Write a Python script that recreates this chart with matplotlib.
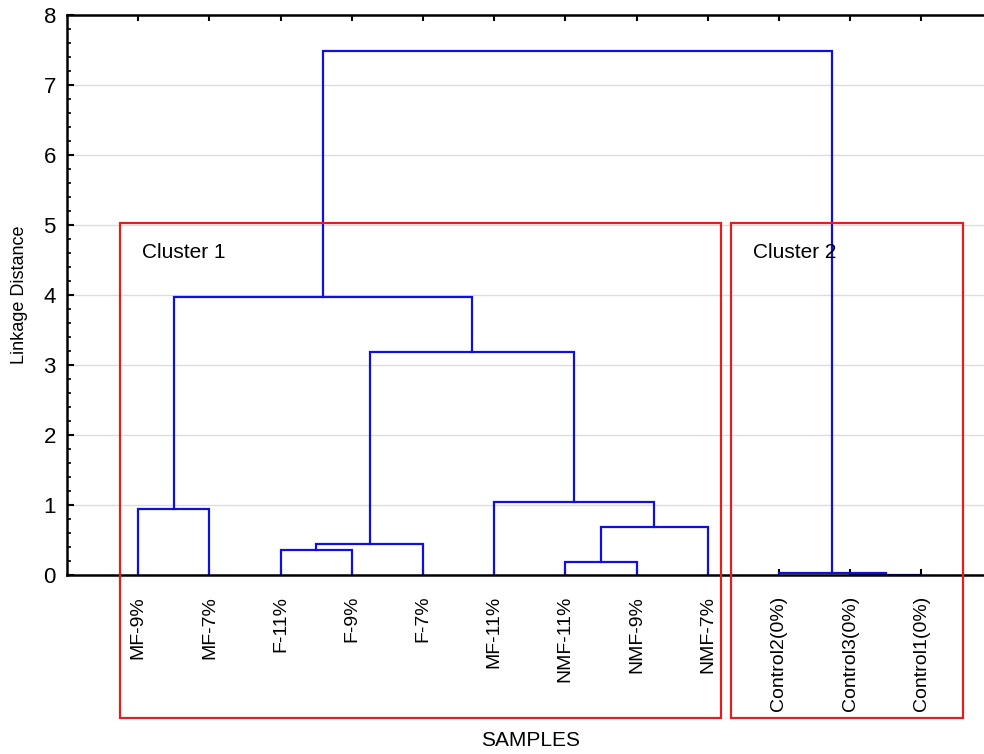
import numpy as np
import matplotlib
matplotlib.use("Agg")
import matplotlib.pyplot as plt
from matplotlib.patches import Rectangle
from matplotlib.ticker import MultipleLocator

plt.rcParams['font.family'] = ['Liberation Sans', 'DejaVu Sans']

# leaves in dendrogram order
leaves = ['MF-9%', 'MF-7%', 'F-11%', 'F-9%', 'F-7%', 'MF-11%',
          'NMF-11%', 'NMF-9%', 'NMF-7%',
          'Control2(0%)', 'Control3(0%)', 'Control1(0%)']

# merges: (left node, right node, linkage distance)
# nodes < 12 are leaves, node 12 + k is merge k
merge_left = [0, 2, 13, 6, 15, 5, 14, 12, 10, 9, 19]
merge_right = [1, 3, 4, 7, 8, 16, 17, 18, 11, 20, 21]
merge_dist = [0.95, 0.36, 0.44, 0.18, 0.68, 1.05, 3.19, 3.97, 0.0, 0.03, 7.49]

cluster_names = ['Cluster 1', 'Cluster 2']

fig = plt.figure(figsize=(9.84, 7.54), dpi=100)
ax = fig.add_axes([67 / 984, 179 / 754, 917 / 984, 560 / 754])

n = len(leaves)
node_x = list(np.arange(1, n + 1, dtype=float))
node_y = [0.0] * n
blue = '#1010dd'
for l, r, d in zip(merge_left, merge_right, merge_dist):
    xl, yl = node_x[l], node_y[l]
    xr, yr = node_x[r], node_y[r]
    ax.plot([xl, xl, xr, xr], [yl, d, d, yr], color=blue, lw=1.6,
            solid_joinstyle='miter', zorder=2)
    node_x.append((xl + xr) / 2)
    node_y.append(d)

ax.set_xlim(0, 12.88)
ax.set_ylim(0, 8)
ax.set_xticks(np.arange(1, n + 1))
ax.set_xticklabels(leaves, rotation=90, fontsize=14)
ax.yaxis.set_major_locator(MultipleLocator(1))
ax.yaxis.set_minor_locator(MultipleLocator(0.2))
ax.tick_params(axis='y', which='major', direction='in', length=5, width=1.5,
               labelsize=16, pad=8)
ax.tick_params(axis='y', which='minor', direction='in', length=3, width=1.2)
ax.tick_params(axis='x', direction='in', length=4, width=1.5, top=True, pad=15)
ax.grid(axis='y', color='#dddddd', lw=1)
ax.set_axisbelow(True)
for s in ['left', 'bottom', 'top']:
    ax.spines[s].set_linewidth(1.8)
    ax.spines[s].set_zorder(3)
ax.spines['right'].set_visible(False)

ax.set_ylabel('Linkage Distance', fontsize=13)
ax.yaxis.set_label_coords(-0.043, 0.5)
ax.set_xlabel('SAMPLES', fontsize=15)
ax.xaxis.set_label_coords(0.505, -0.279)

# red cluster boxes
red = '#e02020'
box_x0 = [0.747, 9.33]
box_x1 = [9.19, 12.59]
for name, x0, x1 in zip(cluster_names, box_x0, box_x1):
    ax.add_patch(Rectangle((x0, -2.04), x1 - x0, 7.07, fill=False,
                           edgecolor=red, lw=1.6, clip_on=False, zorder=4))
    ax.text(x0 + 0.31, 4.6, name, fontsize=15, va='center', ha='left')

fig.savefig('out.png', dpi=100)
